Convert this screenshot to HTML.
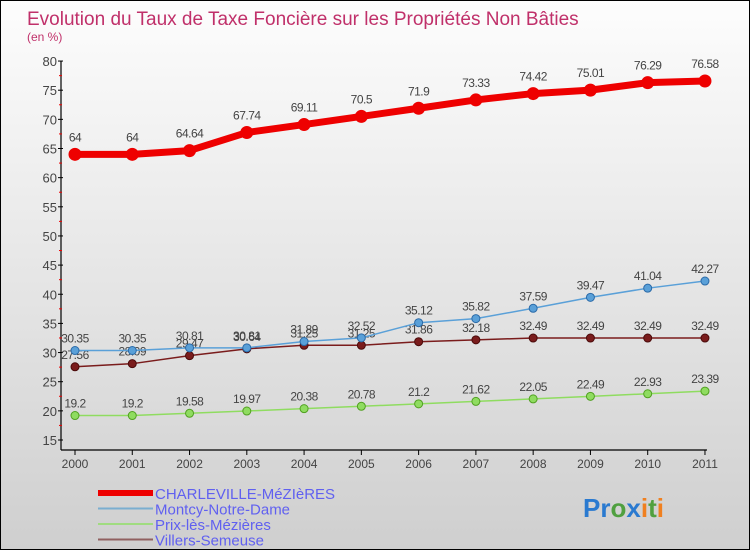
<!DOCTYPE html>
<html><head><meta charset="utf-8"><style>
body{margin:0}
#c{width:748px;height:548px;border:1px solid #000;background:linear-gradient(#fdfdfd,#cfcfcf);position:relative;font-family:"Liberation Sans",sans-serif;overflow:hidden}
</style></head><body>
<div id="c">
<svg id="s" width="748" height="548" xmlns="http://www.w3.org/2000/svg"></svg>
</div>
<script>
const years=["2000","2001","2002","2003","2004","2005","2006","2007","2008","2009","2010","2011"];
const charleville=[64,64,64.64,67.74,69.11,70.5,71.9,73.33,74.42,75.01,76.29,76.58];
const montcy=[30.35,30.35,30.81,30.81,31.89,32.52,35.12,35.82,37.59,39.47,41.04,42.27];
const prix=[19.2,19.2,19.58,19.97,20.38,20.78,21.2,21.62,22.05,22.49,22.93,23.39];
const villers=[27.56,28.09,29.47,30.64,31.25,31.25,31.86,32.18,32.49,32.49,32.49,32.49];
const yTicks=[15,20,25,30,35,40,45,50,55,60,65,70,75,80];
const NS="http://www.w3.org/2000/svg";
const s=document.getElementById('s');
function X(i){return 74+i*57.27;}
function Y(v){return 439-(v-15)*5.83;}
function el(t,a,p){const e=document.createElementNS(NS,t);for(const k in a)e.setAttribute(k,a[k]);(p||s).appendChild(e);return e;}
let t=el('text',{x:26,y:24,fill:'#c0306a','font-size':19});t.textContent='Evolution du Taux de Taxe Foncière sur les Propriétés Non Bâties';

t=el('text',{x:26,y:40,fill:'#c0306a','font-size':12});t.textContent='(en %)';

let a=el('line',{x1:60,y1:Y(80),x2:60,y2:449,stroke:'#000','stroke-width':1.2});

a=el('line',{x1:60,y1:449,x2:X(11)+2,y2:449,stroke:'#000','stroke-width':1.2});

yTicks.forEach(v=>{el('line',{x1:57,y1:Y(v),x2:62,y2:Y(v),stroke:'#000'});
 if(v<80)el('line',{x1:58,y1:Y(v+2.5),x2:61,y2:Y(v+2.5),stroke:'#e00'});
 const l=el('text',{x:56,y:Y(v)+5,'text-anchor':'end','font-size':13,fill:'#444'});l.textContent=v;
 });
years.forEach((y,i)=>{el('line',{x1:X(i),y1:449,x2:X(i),y2:454,stroke:'#000'});
 const l=el('text',{x:X(i),y:467,'text-anchor':'middle','font-size':12,fill:'#444'});l.textContent=y;
 });
function series(d,col,w,r,name,dark){
 const g=el('g',{});
 el('polyline',{points:d.map((v,i)=>X(i)+','+Y(v)).join(' '),fill:'none',stroke:col,'stroke-width':w,'stroke-linejoin':'round'},g);
 d.forEach((v,i)=>{const c=el('circle',{cx:X(i),cy:Y(v),r:r,fill:col,stroke:dark,'stroke-width':1},g);
  
  const l=el('text',{x:X(i),y:Y(v)-(r>5?13:8),'text-anchor':'middle','font-size':12,fill:'#444','letter-spacing':'-0.5'},g);l.textContent=v;});
}
series(villers,'#7a1c1c',1.5,4,'series-villers','#4a0a0a');
series(montcy,'#5aa0d8',1.5,4,'series-montcy','#2a6aa8');
series(prix,'#8fdc60',1.5,4,'series-prix','#50a020');
series(charleville,'#ee0000',7,6,'series-charleville','#ee0000');
const leg=[['CHARLEVILLE-MéZIèRES','#ee0000',6],['Montcy-Notre-Dame','#7aaed0',2],['Prix-lès-Mézières','#a0dc80',2],['Villers-Semeuse','#906060',2]];
leg.forEach((L,i)=>{const g=el('g',{});
 const y=492+i*15.5;el('line',{x1:97,y1:y,x2:152,y2:y,stroke:L[1],'stroke-width':L[2]},g);
 const l=el('text',{x:154,y:y+6,'font-size':15,fill:'#6060f0'},g);l.textContent=L[0];});
const lg=el('text',{x:582,y:516,'font-size':26,'font-weight':'bold'});
[['Pr','#2a7ad0'],['o','#50a040'],['x','#2a7ad0'],['i','#f08020'],['t','#50a040'],['i','#f08020']].forEach(p=>{const ts=el('tspan',{fill:p[1]},lg);ts.textContent=p[0];});
</script>
</body></html>
